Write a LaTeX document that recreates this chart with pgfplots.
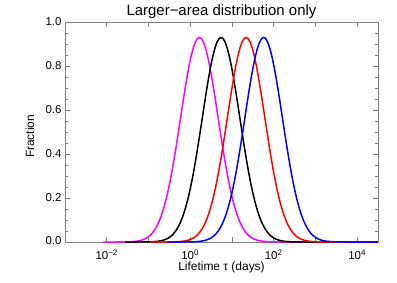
\documentclass[border=0pt]{standalone}
\usepackage{fontspec}
\setmainfont{Liberation Sans}
\usepackage{pgfplots}
\pgfplotsset{compat=1.18}
\definecolor{axgray}{gray}{0.5}
\definecolor{mag}{rgb}{1,0,1}
\begin{document}
\begin{tikzpicture}
\useasboundingbox (-65bp,-41bp) rectangle (332bp,242bp);
\begin{axis}[
  at={(0,0)}, anchor=south west,
  width=313bp, height=220bp, scale only axis,
  xmin=-3, xmax=4.5, ymin=0, ymax=1,
  clip=false,
  axis line style={axgray, line width=0.6pt},
  every tick/.style={axgray, line width=0.6pt},
  xtick={-3,-2,-1,0,1,2,3,4},
  xticklabels={,10\textsuperscript{−2},,10\textsuperscript{0},,10\textsuperscript{2},,10\textsuperscript{4}},
  ytick={0,0.2,0.4,0.6,0.8,1.0},
  yticklabels={\raisebox{4bp}{0.0},0.2,0.4,0.6,0.8,1.0},
  minor ytick={0.05,0.1,0.15,0.25,0.3,0.35,0.45,0.5,0.55,0.65,0.7,0.75,0.85,0.9,0.95},
  major tick length=5bp, minor tick length=3bp,
  tick align=inside,
  xticklabel style={font=\fontsize{11.5}{14}\selectfont, yshift=-4bp},
  yticklabel style={font=\fontsize{11.5}{14}\selectfont, xshift=0bp},
  title={Larger−area distribution only},
  title style={font=\fontsize{15}{17}\selectfont, at={(axis description cs:0.5,1)}, anchor=base, yshift=1bp, inner sep=0pt},
  xlabel={Lifetime τ (days)},
  xlabel style={font=\fontsize{12}{14}\selectfont, at={(axis description cs:0.5,-0.116)}, anchor=center},
  ylabel={Fraction},
  ylabel style={font=\fontsize{12}{14}\selectfont, at={(axis description cs:-0.112,0.48)}, anchor=center},
]
\addplot[mag, line width=1.5bp] coordinates {
(-2.08,0) (-1.78,0) (-1.58,0.0003) (-1.48,0.0007) (-1.38,0.0017) (-1.28,0.0036) (-1.18,0.0074) (-1.08,0.0143) (-1.03,0.0196) (-0.98,0.0266) (-0.93,0.0355) (-0.88,0.0469) (-0.83,0.0611) (-0.78,0.0787) (-0.73,0.1002) (-0.68,0.1259) (-0.63,0.1562) (-0.58,0.1915) (-0.53,0.2319) (-0.48,0.2774) (-0.43,0.3277) (-0.38,0.3823) (-0.33,0.4407) (-0.28,0.5017) (-0.23,0.5641) (-0.18,0.6265) (-0.13,0.6872) (-0.08,0.7447) (-0.03,0.7970) (0.02,0.8425) (0.07,0.8797) (0.12,0.9073) (0.17,0.9243) (0.22,0.93) (0.27,0.9243) (0.32,0.9073) (0.37,0.8797) (0.42,0.8425) (0.47,0.7970) (0.52,0.7447) (0.57,0.6872) (0.62,0.6265) (0.67,0.5641) (0.72,0.5017) (0.77,0.4407) (0.82,0.3823) (0.87,0.3277) (0.92,0.2774) (0.97,0.2319) (1.02,0.1915) (1.07,0.1562) (1.12,0.1259) (1.17,0.1002) (1.22,0.0787) (1.27,0.0611) (1.32,0.0469) (1.37,0.0355) (1.42,0.0266) (1.47,0.0196) (1.52,0.0143) (1.62,0.0074) (1.72,0.0036) (1.82,0.0017) (1.92,0.0007) (2.02,0.0003) (2.22,0) (4.5,0)
};
\addplot[black, line width=1.5bp] coordinates {
(-1.56,0) (-1.26,0) (-1.06,0.0003) (-0.96,0.0007) (-0.86,0.0017) (-0.76,0.0036) (-0.66,0.0074) (-0.56,0.0143) (-0.51,0.0196) (-0.46,0.0266) (-0.41,0.0355) (-0.36,0.0469) (-0.31,0.0611) (-0.26,0.0787) (-0.21,0.1002) (-0.16,0.1259) (-0.11,0.1562) (-0.06,0.1915) (-0.01,0.2319) (0.04,0.2774) (0.09,0.3277) (0.14,0.3823) (0.19,0.4407) (0.24,0.5017) (0.29,0.5641) (0.34,0.6265) (0.39,0.6872) (0.44,0.7447) (0.49,0.7970) (0.54,0.8425) (0.59,0.8797) (0.64,0.9073) (0.69,0.9243) (0.74,0.93) (0.79,0.9243) (0.84,0.9073) (0.89,0.8797) (0.94,0.8425) (0.99,0.7970) (1.04,0.7447) (1.09,0.6872) (1.14,0.6265) (1.19,0.5641) (1.24,0.5017) (1.29,0.4407) (1.34,0.3823) (1.39,0.3277) (1.44,0.2774) (1.49,0.2319) (1.54,0.1915) (1.59,0.1562) (1.64,0.1259) (1.69,0.1002) (1.74,0.0787) (1.79,0.0611) (1.84,0.0469) (1.89,0.0355) (1.94,0.0266) (1.99,0.0196) (2.04,0.0143) (2.14,0.0074) (2.24,0.0036) (2.34,0.0017) (2.44,0.0007) (2.54,0.0003) (2.74,0) (4.5,0)
};
\addplot[red, line width=1.5bp] coordinates {
(-0.96,0) (-0.66,0) (-0.46,0.0003) (-0.36,0.0007) (-0.26,0.0017) (-0.16,0.0036) (-0.06,0.0074) (0.04,0.0143) (0.09,0.0196) (0.14,0.0266) (0.19,0.0355) (0.24,0.0469) (0.29,0.0611) (0.34,0.0787) (0.39,0.1002) (0.44,0.1259) (0.49,0.1562) (0.54,0.1915) (0.59,0.2319) (0.64,0.2774) (0.69,0.3277) (0.74,0.3823) (0.79,0.4407) (0.84,0.5017) (0.89,0.5641) (0.94,0.6265) (0.99,0.6872) (1.04,0.7447) (1.09,0.7970) (1.14,0.8425) (1.19,0.8797) (1.24,0.9073) (1.29,0.9243) (1.34,0.93) (1.39,0.9243) (1.44,0.9073) (1.49,0.8797) (1.54,0.8425) (1.59,0.7970) (1.64,0.7447) (1.69,0.6872) (1.74,0.6265) (1.79,0.5641) (1.84,0.5017) (1.89,0.4407) (1.94,0.3823) (1.99,0.3277) (2.04,0.2774) (2.09,0.2319) (2.14,0.1915) (2.19,0.1562) (2.24,0.1259) (2.29,0.1002) (2.34,0.0787) (2.39,0.0611) (2.44,0.0469) (2.49,0.0355) (2.54,0.0266) (2.59,0.0196) (2.64,0.0143) (2.74,0.0074) (2.84,0.0036) (2.94,0.0017) (3.04,0.0007) (3.14,0.0003) (3.34,0) (4.5,0)
};
\addplot[blue, line width=1.5bp] coordinates {
(-0.54,0) (-0.24,0) (-0.04,0.0003) (0.06,0.0007) (0.16,0.0017) (0.26,0.0036) (0.36,0.0074) (0.46,0.0143) (0.51,0.0196) (0.56,0.0266) (0.61,0.0355) (0.66,0.0469) (0.71,0.0611) (0.76,0.0787) (0.81,0.1002) (0.86,0.1259) (0.91,0.1562) (0.96,0.1915) (1.01,0.2319) (1.06,0.2774) (1.11,0.3277) (1.16,0.3823) (1.21,0.4407) (1.26,0.5017) (1.31,0.5641) (1.36,0.6265) (1.41,0.6872) (1.46,0.7447) (1.51,0.7970) (1.56,0.8425) (1.61,0.8797) (1.66,0.9073) (1.71,0.9243) (1.76,0.93) (1.81,0.9243) (1.86,0.9073) (1.91,0.8797) (1.96,0.8425) (2.01,0.7970) (2.06,0.7447) (2.11,0.6872) (2.16,0.6265) (2.21,0.5641) (2.26,0.5017) (2.31,0.4407) (2.36,0.3823) (2.41,0.3277) (2.46,0.2774) (2.51,0.2319) (2.56,0.1915) (2.61,0.1562) (2.66,0.1259) (2.71,0.1002) (2.76,0.0787) (2.81,0.0611) (2.86,0.0469) (2.91,0.0355) (2.96,0.0266) (3.01,0.0196) (3.06,0.0143) (3.16,0.0074) (3.26,0.0036) (3.36,0.0017) (3.46,0.0007) (3.56,0.0003) (3.76,0) (4.5,0)
};
\end{axis}
\end{tikzpicture}
\end{document}
